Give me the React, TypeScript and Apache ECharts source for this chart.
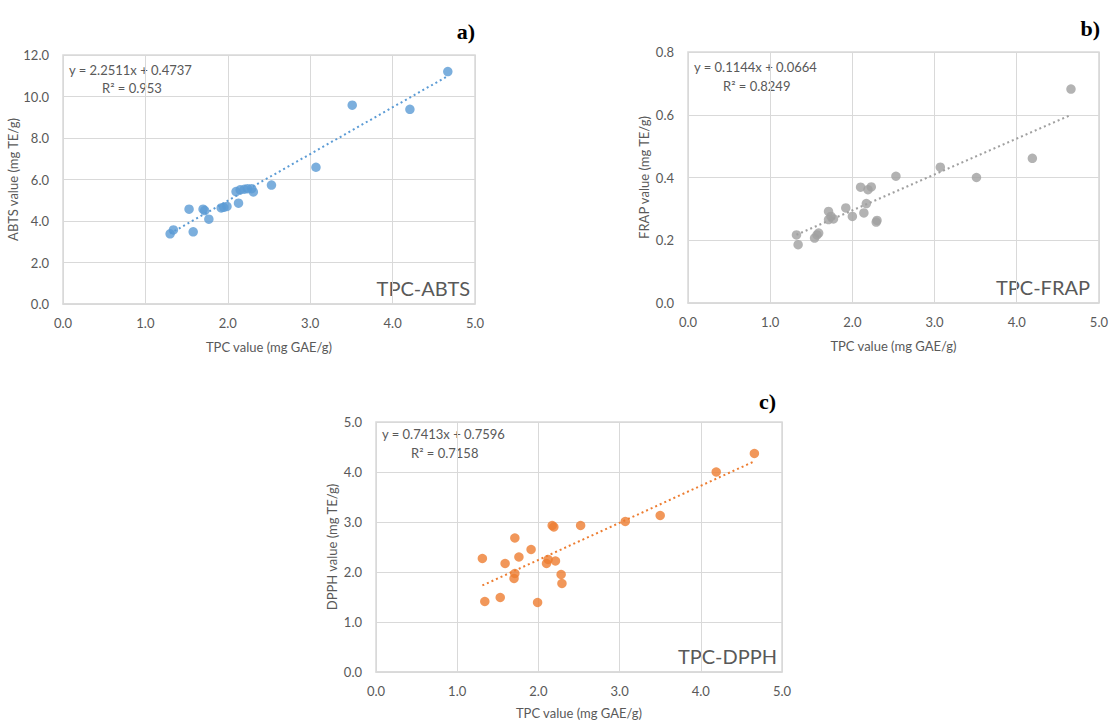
import React, { useEffect, useRef } from "react";
import * as echarts from "echarts";

// ---------- data ----------
const abtsPoints: [number, number][] = [
  [1.3, 3.38], [1.34, 3.57], [1.53, 4.57], [1.58, 3.48], [1.7, 4.57], [1.72, 4.5],
  [1.77, 4.09], [1.92, 4.63], [1.95, 4.66], [1.99, 4.7], [2.13, 4.86], [2.1, 5.42],
  [2.15, 5.5], [2.2, 5.53], [2.24, 5.56], [2.29, 5.56], [2.31, 5.4], [2.53, 5.73],
  [3.07, 6.59], [3.51, 9.58], [4.21, 9.38], [4.67, 11.2],
];
const frapPoints: [number, number][] = [
  [1.32, 0.217], [1.34, 0.186], [1.54, 0.207], [1.57, 0.217], [1.59, 0.223],
  [1.71, 0.292], [1.71, 0.266], [1.74, 0.276], [1.77, 0.268], [1.92, 0.303],
  [2.0, 0.276], [2.1, 0.369], [2.14, 0.287], [2.17, 0.317], [2.19, 0.361],
  [2.23, 0.37], [2.29, 0.258], [2.3, 0.263], [2.53, 0.404], [3.07, 0.433],
  [3.51, 0.4], [4.19, 0.461], [4.66, 0.682],
];
const dpphPoints: [number, number][] = [
  [1.31, 2.27], [1.34, 1.41], [1.53, 1.49], [1.59, 2.17], [1.71, 2.68], [1.71, 1.97],
  [1.7, 1.87], [1.76, 2.3], [1.91, 2.45], [1.99, 1.39], [2.1, 2.17], [2.12, 2.25],
  [2.17, 2.93], [2.19, 2.9], [2.21, 2.22], [2.28, 1.95], [2.29, 1.77], [2.52, 2.93],
  [3.07, 3.01], [3.5, 3.13], [4.19, 4.0], [4.66, 4.37],
];

const panelNames = ["TPC-ABTS", "TPC-FRAP", "TPC-DPPH"];
const panelTags = ["a)", "b)", "c)"];
const yAxisNames = ["ABTS value (mg TE/g)", "FRAP value (mg TE/g)", "DPPH value (mg TE/g)"];
const xAxisName = "TPC value (mg GAE/g)";
const slopes = ["2.2511", "0.1144", "0.7413"];
const intercepts = ["0.4737", "0.0664", "0.7596"];
const rSquared = ["0.953", "0.8249", "0.7158"];
const yMax = [12, 0.8, 5];
const yStep = [2, 0.2, 1];
const xMax = 5;
const xStep = 1;
const colors = ["#5b9bd5", "#a0a0a0", "#ed7d31"];

const FONT = 'Lato, "Open Sans", sans-serif';
const TXT = "#595959";
const GRIDC = "#d9d9d9";

// layout (pixels)
const grids = [
  { left: 63, top: 55, width: 412, height: 249 },
  { left: 688, top: 52, width: 412, height: 251 },
  { left: 376, top: 422, width: 406, height: 250 },
];
const nameInset = [5, 10, 5];
const eqPos = [
  { x: 69, y: 70, rx: 102, ry: 88 },
  { x: 694, y: 67, rx: 723, ry: 86 },
  { x: 382, y: 434, rx: 411, ry: 453 },
];
const tagPos = [
  { x: 475, y: 31 },
  { x: 1100, y: 28 },
  { x: 776, y: 401 },
];

export default function App() {
  const ref = useRef<HTMLDivElement>(null);
  useEffect(() => {
    if (!ref.current) return;
    const chart = echarts.init(ref.current, undefined, { renderer: "svg" });
    const allPoints = [abtsPoints, frapPoints, dpphPoints];

    const xAxes: any[] = [];
    const yAxes: any[] = [];
    const series: any[] = [];
    const graphics: any[] = [];

    allPoints.forEach((pts, i) => {
      const g = grids[i];
      xAxes.push({
        gridIndex: i,
        type: "value",
        min: 0,
        max: xMax,
        interval: xStep,
        name: xAxisName,
        nameLocation: "middle",
        nameGap: i === 2 ? 34 : 36,
        nameTextStyle: { color: TXT, fontFamily: FONT, fontSize: 13 },
        axisLine: { show: true, lineStyle: { color: GRIDC, width: 1.5 } },
        axisTick: { show: false },
        axisLabel: {
          color: TXT,
          fontFamily: FONT,
          fontSize: 13,
          margin: 12,
          formatter: (v: number) => v.toFixed(1),
        },
        splitLine: { show: true, lineStyle: { color: GRIDC, width: 1 } },
      });
      yAxes.push({
        gridIndex: i,
        type: "value",
        min: 0,
        max: yMax[i],
        interval: yStep[i],
        name: yAxisNames[i],
        nameLocation: "middle",
        nameGap: 38,
        nameTextStyle: { color: TXT, fontFamily: FONT, fontSize: 13 },
        axisLine: { show: false },
        axisTick: { show: false },
        axisLabel: {
          color: TXT,
          fontFamily: FONT,
          fontSize: 13,
          margin: 14,
          formatter: (v: number) => v.toFixed(1),
        },
        splitLine: { show: true, lineStyle: { color: GRIDC, width: 1 } },
      });
      const xs = pts.map((p) => p[0]);
      const x0 = Math.min(...xs);
      const x1 = Math.max(...xs);
      const a = parseFloat(slopes[i]);
      const b = parseFloat(intercepts[i]);
      series.push({
        type: "scatter",
        xAxisIndex: i,
        yAxisIndex: i,
        data: pts,
        symbol: "circle",
        symbolSize: 9.5,
        itemStyle: { color: colors[i] },
        z: 3,
      });
      series.push({
        type: "line",
        xAxisIndex: i,
        yAxisIndex: i,
        data: [
          [x0, a * x0 + b],
          [x1, a * x1 + b],
        ],
        showSymbol: false,
        symbol: "none",
        lineStyle: { color: colors[i], width: 2, type: [2, 3] },
        z: 4,
        silent: true,
      });
      graphics.push({
        type: "text",
        x: eqPos[i].x,
        y: eqPos[i].y,
        style: {
          text: `y = ${slopes[i]}x + ${intercepts[i]}`,
          fill: TXT,
          font: `13px ${FONT}`,
          verticalAlign: "middle",
        },
      });
      graphics.push({
        type: "text",
        x: eqPos[i].rx,
        y: eqPos[i].ry,
        style: {
          text: `R² = ${rSquared[i]}`,
          fill: TXT,
          font: `13px ${FONT}`,
          verticalAlign: "middle",
        },
      });
      graphics.push({
        type: "text",
        x: g.left + g.width - nameInset[i],
        y: g.top + g.height - 6,
        style: {
          text: panelNames[i],
          fill: TXT,
          font: `20px ${FONT}`,
          align: "right",
          verticalAlign: "bottom",
        },
      });
      graphics.push({
        type: "text",
        x: tagPos[i].x,
        y: tagPos[i].y,
        style: {
          text: panelTags[i],
          fill: "#000",
          font: `bold 22px "Liberation Serif", "DejaVu Serif", serif`,
          align: "right",
          verticalAlign: "middle",
        },
      });
    });

    chart.setOption({
      animation: false,
      backgroundColor: "#ffffff",
      grid: grids.map((g) => ({
        ...g,
        show: true,
        borderColor: GRIDC,
        borderWidth: 1.5,
        backgroundColor: "transparent",
        containLabel: false,
      })),
      xAxis: xAxes,
      yAxis: yAxes,
      series,
      graphic: graphics,
    });
    return () => chart.dispose();
  }, []);

  return (
    <div
      ref={ref}
      style={{ position: "fixed", left: 0, top: 0, width: 1111, height: 723 }}
    />
  );
}
